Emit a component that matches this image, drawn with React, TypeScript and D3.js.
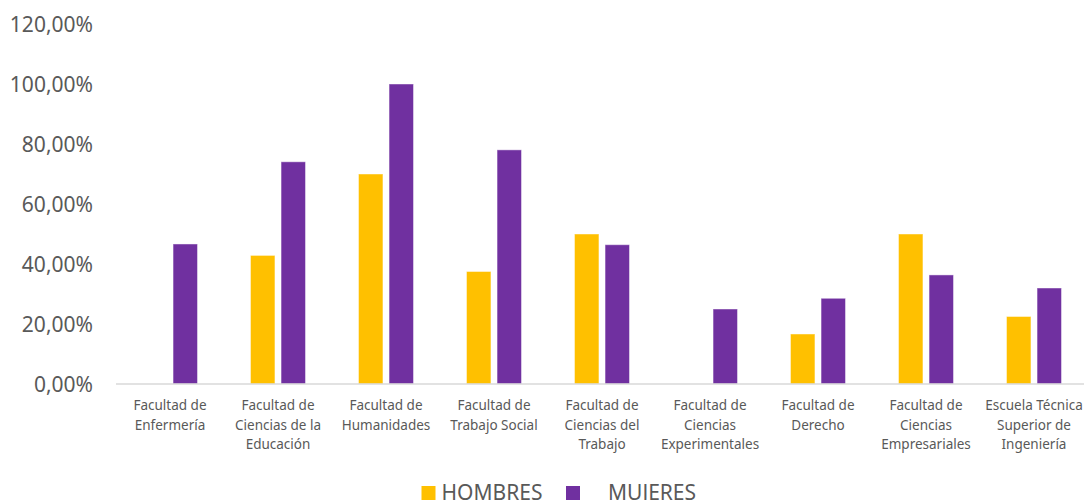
import React from "react";
import * as d3 from "d3";

const categories = [
  "Facultad de Enfermería",
  "Facultad de Ciencias de la Educación",
  "Facultad de Humanidades",
  "Facultad de Trabajo Social",
  "Facultad de Ciencias del Trabajo",
  "Facultad de Ciencias Experimentales",
  "Facultad de Derecho",
  "Facultad de Ciencias Empresariales",
  "Escuela Técnica Superior de Ingeniería",
];
const categoryLines = [
  ["Facultad de", "Enfermería"],
  ["Facultad de", "Ciencias de la", "Educación"],
  ["Facultad de", "Humanidades"],
  ["Facultad de", "Trabajo Social"],
  ["Facultad de", "Ciencias del", "Trabajo"],
  ["Facultad de", "Ciencias", "Experimentales"],
  ["Facultad de", "Derecho"],
  ["Facultad de", "Ciencias", "Empresariales"],
  ["Escuela Técnica", "Superior de", "Ingeniería"],
];
const hombres = [0, 42.86, 70, 37.5, 50, 0, 16.67, 50, 22.5];
const mujeres = [46.67, 74.07, 100, 78.05, 46.43, 25, 28.57, 36.36, 32];
const seriesNames = ["HOMBRES", "MUJERES"];
const seriesColors = ["#FFC000", "#7030A0"];
const yTicks = [0, 20, 40, 60, 80, 100, 120];

const W = 1084;
const H = 500;
const FONT = "'Noto Sans', 'Open Sans', sans-serif";
const TEXT = "#595959";

const locale = d3.formatLocale({
  decimal: ",",
  thousands: ".",
  grouping: [3],
  currency: ["", "€"],
});
const fmt = (v: number) => locale.format(".2f")(v) + "%";

export default function App() {
  const x = d3.scaleBand<string>().domain(categories).range([116, 1088]).paddingInner(0).paddingOuter(0);
  const inner = d3.scaleBand<string>().domain(seriesNames).range([0, 55]).paddingInner(0.2).paddingOuter(0);
  const y = d3.scaleLinear().domain([0, 120]).range([384, 24]);
  const series = [hombres, mujeres];

  return (
    <svg
      width={W}
      height={H}
      style={{ position: "absolute", left: 0, top: 0, background: "#fff" }}
    >
      <rect x={0} y={0} width={W} height={H} fill="#fff" />
      {yTicks.map((t) => (
        <text
          key={t}
          x={93}
          y={y(t) + 7.5}
          textAnchor="end"
          fontFamily={FONT}
          fontSize={21}
          fill={TEXT}
        >
          {fmt(t)}
        </text>
      ))}
      {series.map((vals, si) =>
        vals.map((v, i) => {
          if (v <= 0) return null;
          const cx = (x(categories[i]) as number) + x.bandwidth() / 2;
          const bx = cx - 27.5 + (inner(seriesNames[si]) as number);
          return (
            <rect
              key={`${si}-${i}`}
              x={bx}
              y={y(v)}
              width={inner.bandwidth()}
              height={y(0) - y(v)}
              fill={seriesColors[si]}
              stroke="#ffffff"
              strokeOpacity={0.45}
              strokeWidth={1}
            />
          );
        })
      )}
      <line x1={116} x2={1088} y1={y(0)} y2={y(0)} stroke="#D9D9D9" strokeWidth={1.5} />
      {categoryLines.map((lines, i) => {
        const cx = (x(categories[i]) as number) + x.bandwidth() / 2;
        return (
          <text
            key={i}
            textAnchor="middle"
            fontFamily={FONT}
            fontSize={13.5}
            fill={TEXT}
          >
            {lines.map((l, j) => (
              <tspan key={j} x={cx} y={410 + j * 19.5}>
                {l}
              </tspan>
            ))}
          </text>
        );
      })}
      {seriesNames.map((s, si) => {
        const lx = [421.5, 566][si];
        return (
          <g key={s}>
            <rect x={lx} y={486} width={14} height={14} fill={seriesColors[si]} />
            <text
              x={[441.5, 608][si]}
              y={500}
              fontFamily={FONT}
              fontSize={21}
              fill={TEXT}
            >
              {s}
            </text>
          </g>
        );
      })}
    </svg>
  );
}
